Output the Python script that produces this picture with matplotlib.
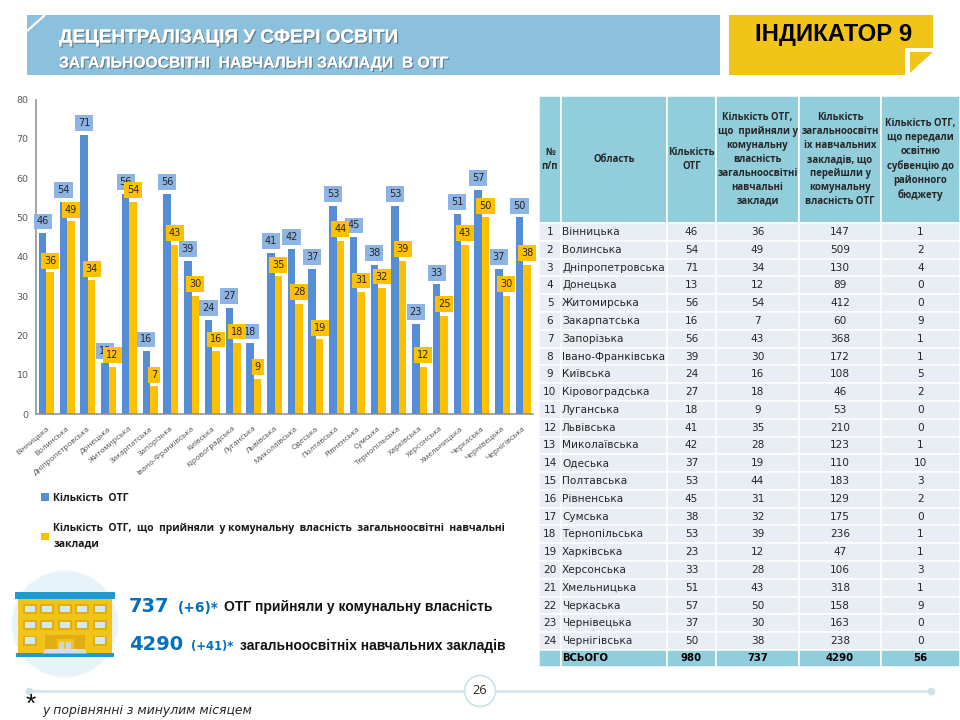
import matplotlib
matplotlib.use("Agg")
import matplotlib.pyplot as plt
import matplotlib.patheffects as pe
from matplotlib.patches import Rectangle, Circle, Polygon

regions = ["Вінницька", "Волинська", "Дніпропетровська", "Донецька", "Житомирська", "Закарпатська",
           "Запорізька", "Івано-Франківська", "Київська", "Кіровоградська", "Луганська", "Львівська",
           "Миколаївська", "Одеська", "Полтавська", "Рівненська", "Сумська", "Тернопільська",
           "Харківська", "Херсонська", "Хмельницька", "Черкаська", "Чернівецька", "Чернігівська"]
otg_total = [46, 54, 71, 13, 56, 16, 56, 39, 24, 27, 18, 41, 42, 37, 53, 45, 38, 53, 23, 33, 51, 57, 37, 50]
chart_accepted = [36, 49, 34, 12, 54, 7, 43, 30, 16, 18, 9, 35, 28, 19, 44, 31, 32, 39, 12, 25, 43, 50, 30, 38]
table_accepted = [36, 49, 34, 12, 54, 7, 43, 30, 16, 18, 9, 35, 28, 19, 44, 31, 32, 39, 12, 28, 43, 50, 30, 38]
schools = [147, 509, 130, 89, 412, 60, 368, 172, 108, 46, 53, 210, 123, 110, 183, 129, 175, 236, 47, 106, 318, 158, 163, 238]
subvention = [1, 2, 4, 0, 0, 9, 1, 1, 5, 2, 0, 0, 1, 10, 3, 2, 0, 1, 1, 3, 1, 9, 0, 0]
totals = ["980", "737", "4290", "56"]
headers = ["№\nп/п", "Область", "Кількість\nОТГ",
           "Кількість ОТГ,\nщо  прийняли у\nкомунальну\nвласність\nзагальноосвітні\nнавчальні\nзаклади",
           "Кількість\nзагальноосвітн\nіх навчальних\nзакладів, що\nперейшли у\nкомунальну\nвласність ОТГ",
           "Кількість ОТГ,\nщо передали\nосвітню\nсубвенцію до\nрайонного\nбюджету"]
yticks = [0, 10, 20, 30, 40, 50, 60, 70, 80]

BLUE, GOLD = "#558ED5", "#FFC000"
BLUE_L = "#8EB4E3"
BANNER = "#8CC1DE"
YEL = "#F0C419"
TXT = "#262626"
GRAY = "#4F4F4F"
SANS = ["Open Sans", "DejaVu Sans"]
ARIAL = ["Liberation Sans", "DejaVu Sans"]
DV = ["DejaVu Sans"]

fig = plt.figure(figsize=(9.6, 7.2), dpi=100, facecolor="white")

# page layer in pixel units
bg = fig.add_axes([0, 0, 1, 1], zorder=0)
bg.set_xlim(0, 960)
bg.set_ylim(720, 0)
bg.axis("off")

# banner
bg.add_patch(Rectangle((27, 15), 693, 60, fc=BANNER, ec="none"))
bg.plot([45, 27], [15, 31], color="white", lw=1.6, solid_capstyle="butt")
shadow = [pe.withSimplePatchShadow(offset=(1, -1), shadow_rgbFace="#555555", alpha=0.6), pe.Normal()]
bg.text(59, 38, "ДЕЦЕНТРАЛІЗАЦІЯ У СФЕРІ ОСВІТИ", color="white", fontsize=13.6, fontweight="bold",
        family=ARIAL, va="center", path_effects=shadow)
bg.text(59, 63, "ЗАГАЛЬНООСВІТНІ  НАВЧАЛЬНІ ЗАКЛАДИ  В ОТГ", color="white", fontsize=11.3, fontweight="bold",
        family=ARIAL, va="center", path_effects=shadow)

# indicator tag
bg.add_patch(Rectangle((729, 15), 204, 59.5, fc=YEL, ec="none"))
bg.add_patch(Rectangle((905, 48), 30, 28, fc="white", ec="none"))
bg.add_patch(Polygon([(910, 52), (933, 52), (910, 73)], fc=YEL, ec="none"))
bg.text(834, 35, "ІНДИКАТОР 9", color="black", fontsize=17.2, fontweight="bold", family=ARIAL,
        ha="center", va="center")

# chart
ax = fig.add_axes([35.5 / 960, (720 - 414) / 720, (533 - 35.5) / 960, (414 - 99.5) / 720], zorder=2)
ax.patch.set_alpha(0)
w = 0.3625
xs = list(range(len(regions)))
b1 = ax.bar([x - w / 2 + 0.03 for x in xs], otg_total, w, color=BLUE, label="Кількість  ОТГ")
b2 = ax.bar([x + w / 2 + 0.03 for x in xs], chart_accepted, w, color=GOLD,
            label="Кількість  ОТГ,  що  прийняли  у комунальну  власність  загальноосвітні  навчальні\nзаклади")
ax.set_xlim(-0.5, 23.5)
ax.set_ylim(0, 80)
ax.set_yticks(yticks)
ax.set_xticks(xs)
ax.set_xticklabels(regions, rotation=40, ha="right", rotation_mode="anchor", fontsize=5.8, color=GRAY,
                   family=SANS)
ax.tick_params(axis="both", length=0)
ax.tick_params(axis="y", labelsize=6.8, labelcolor="#595959", pad=5)
ax.tick_params(axis="x", pad=8)
for s in ("top", "right"):
    ax.spines[s].set_visible(False)
for s in ("left", "bottom"):
    ax.spines[s].set_color("#8C8C8C")
    ax.spines[s].set_linewidth(1.1)

for bars, vals, col, z in ((b1, otg_total, BLUE_L, 5), (b2, chart_accepted, GOLD, 6)):
    for r, v in zip(bars, vals):
        ax.annotate(str(v), (r.get_x() + r.get_width() / 2, v), xytext=(0, 8.4), textcoords="offset points",
                    ha="center", va="center", fontsize=7, color=TXT, zorder=z,
                    bbox=dict(boxstyle="square,pad=0.3", fc=col, ec="none"))

leg = ax.legend(loc="upper left", bbox_to_anchor=(0.012, -0.25), frameon=False, ncol=1,
                handlelength=0.72, handleheight=0.72, handletextpad=0.4, labelspacing=1.85,
                borderpad=0, borderaxespad=0,
                prop={"family": SANS, "weight": "bold", "size": 7.5})
for t in leg.get_texts():
    t.set_color("#1A1A1A")
    t.set_linespacing(1.55)

# table
rows = [[str(i + 1), regions[i], str(otg_total[i]), str(table_accepted[i]), str(schools[i]), str(subvention[i])]
        for i in range(len(regions))]
all_rows = [headers] + rows + [["", "ВСЬОГО"] + totals]
col_px = [22, 106, 49, 83, 82, 79]
tb = bg.table(cellText=all_rows, colWidths=[c / 421 for c in col_px], cellLoc="center",
              bbox=[539 / 960, (720 - 667) / 720, 421 / 960, (667 - 96) / 720])
tb.auto_set_font_size(False)
n = len(all_rows)
for (r, c), cell in tb.get_celld().items():
    cell.set_edgecolor("white")
    cell.set_linewidth(1.1)
    cell.set_height({0: 127}.get(r, 17 if r == n - 1 else 17.77))
    head = r == 0 or r == n - 1
    cell.set_facecolor("#92CDDC" if head else "#E9EDF4")
    t = cell.get_text()
    t.set_fontsize(7.6)
    t.set_color(TXT)
    if r == 0:
        t.set_fontsize(6.9)
        t.set_fontweight("bold")
        t.set_linespacing(1.36)
        t.set_family(SANS)
    elif r == n - 1:
        t.set_fontweight("bold")
        t.set_fontsize(7.3)
        t.set_color("black")
    if c == 1 and r > 0:
        cell.set_text_props(ha="left")
        cell.PAD = 0.01

# building icon
bg.add_patch(Circle((65, 624), 53, fc="#E6F3F8", ec="#EFF8FB", lw=1))
bg.add_patch(Rectangle((17.7, 599), 94.6, 54, fc=YEL, ec="none"))
bg.add_patch(Rectangle((15, 592), 100, 7, fc="#1B9AD6", ec="none"))
bg.add_patch(Rectangle((16, 653), 98, 4, fc="#1B9AD6", ec="none"))
win_x = [29.7, 47, 64.7, 82, 99.7]
win_rows = [(609, win_x), (625, win_x), (640.7, [win_x[0], win_x[4]])]
for wy, wxs in win_rows:
    for wx in wxs:
        bg.add_patch(Rectangle((wx - 7, wy - 5), 14, 10, fc="#E0AE12", ec="none"))
        bg.add_patch(Rectangle((wx - 5, wy - 3.3), 10, 6.6, fc="#CFEAF4", ec="none"))
bg.add_patch(Rectangle((45, 635), 40, 14, fc="#E0AE12", ec="none"))
bg.add_patch(Rectangle((56.5, 639), 17, 10, fc="#F0C419", ec="none"))
bg.add_patch(Rectangle((59, 642), 5, 7, fc="#C9D6E2", ec="none"))
bg.add_patch(Rectangle((66, 642), 5, 7, fc="#C9D6E2", ec="none"))
bg.add_patch(Polygon([(45, 649), (85, 649), (87, 653.5), (43, 653.5)], fc="#D5DDE8", ec="none"))

# summary text
C = "#0070C0"
for x, y, s, col, size, fam in [(129, 612, "737", C, 14, DV), (178, 612, "(+6)*", C, 9.9, DV),
                                (224, 611, "ОТГ прийняли у комунальну власність", "#111111", 10, ARIAL),
                                (129, 650, "4290", C, 14, DV), (191, 650, "(+41)*", C, 8.4, DV),
                                (240, 650, "загальноосвітніх навчальних закладів", "#111111", 10, ARIAL)]:
    bg.text(x, y, s, color=col, fontsize=size, fontweight="bold", family=fam, va="baseline")

# footer
bg.plot([29, 931], [691, 691], color="#D6E6EE", lw=2, zorder=1)
bg.plot([29, 931], [691, 691], ls="none", marker="o", ms=4.5, color="#CFE2EB", zorder=1)
bg.add_patch(Circle((480, 691), 15.5, fc="white", ec="#CFE4EA", lw=1.3, zorder=2))
bg.text(480, 691, "26", fontsize=9.2, color=TXT, family=["Open Sans", "DejaVu Sans"], ha="center", va="center", zorder=3)
bg.text(26, 712, "*", fontsize=19, color="#111111", family=ARIAL, va="baseline")
bg.text(42, 714, "у порівнянні з минулим місяцем", fontsize=8.9, style="italic", color=TXT, va="baseline")

fig.savefig("out.png", dpi=100, facecolor="white")
